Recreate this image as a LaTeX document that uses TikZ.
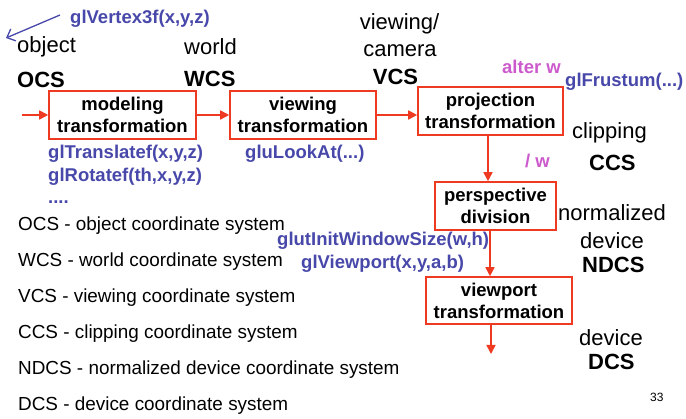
\documentclass[tikz,border=0pt]{standalone}
\usepackage{fontspec}
\setmainfont{Liberation Sans}
\usetikzlibrary{arrows.meta}
\definecolor{boxred}{RGB}{238,58,32}
\definecolor{glblue}{RGB}{72,72,170}
\definecolor{wpink}{RGB}{204,90,204}
\begin{document}
\begin{tikzpicture}[x=1pt,y=-1pt,
  stage/.style={draw=boxred, line width=1.6pt, fill=white, inner sep=0pt, align=center,
    font=\fontsize{18.5}{22}\selectfont\bfseries},
  flow/.style={draw=boxred, line width=1.6pt, -{Triangle[length=9pt,width=9pt]}},
  lbl/.style={inner sep=0pt, font=\fontsize{22}{26}\selectfont},
  cs/.style={inner sep=0pt, font=\fontsize{22}{26}\selectfont\bfseries},
  gl/.style={inner sep=0pt, anchor=west, text=glblue, font=\fontsize{18.5}{22}\selectfont\bfseries},
  wl/.style={inner sep=0pt, anchor=west, text=wpink, font=\fontsize{18.5}{22}\selectfont\bfseries},
  leg/.style={inner sep=0pt, anchor=west, font=\fontsize{18.9}{22}\selectfont}]
\useasboundingbox (0,0) rectangle (686,419);

% stages
\node[stage, minimum width=147pt, minimum height=48pt] (mod) at (122.5,115) {modeling\\transformation};
\node[stage, minimum width=146pt, minimum height=48pt] (view) at (303,115) {viewing\\transformation};
\node[stage, minimum width=145pt, minimum height=48pt] (proj) at (490.5,111) {projection\\transformation};
\node[stage, minimum width=121pt, minimum height=48pt] (persp) at (495.5,206) {perspective\\division};
\node[stage, minimum width=146pt, minimum height=47pt] (vp) at (499,300.5) {viewport\\transformation};

% helper coordinates
\coordinate (inpt) at (22,115);
\coordinate (xa) at (488,0);
\coordinate (xb) at (490,0);
\coordinate (xc) at (491,0);
\coordinate (outpt) at (491,354);

% flow arrows
\draw[flow] (inpt) -- (mod.west);
\draw[flow] (mod.east) -- (view.west);
\draw[flow] (view.east) -- (proj.west |- view.east);
\draw[flow] (proj.south -| xa) -- (persp.north -| xa);
\draw[flow] (persp.south -| xb) -- (vp.north -| xb);
\draw[flow] (vp.south -| xc) -- (outpt);

% coordinate system labels
\node[lbl, anchor=west] (objl) at (17,47) {object};
\node[cs, anchor=west] (ocs) at (17,80) {OCS};
\node[lbl, anchor=west] (worldl) at (184,47) {world};
\node[cs, anchor=west] (wcs) at (184,79) {WCS};
\node[lbl] (viewl) at (399.5,24) {viewing/};
\node[lbl] (caml) at (400,51) {camera};
\node[cs] (vcs) at (395.5,77) {VCS};
\node[lbl, anchor=west] (clipl) at (572,133) {clipping};
\node[cs, anchor=west] (ccs) at (589,163) {CCS};
\node[lbl, anchor=west] (norml) at (558,213) {normalized};
\node[lbl, anchor=west] (devl) at (580,241) {device};
\node[cs, anchor=west] (ndcs) at (582,265) {NDCS};
\node[lbl, anchor=west] (dev2l) at (579,338) {device};
\node[cs, anchor=west] (dcs) at (588,362) {DCS};

% OpenGL calls
\node[gl] (vtx) at (70,19) {glVertex3f(x,y,z)};
\coordinate (vtxs) at (60,15);
\coordinate (vtxe) at (6,38);
\draw[glblue, line width=1.3pt, -{Straight Barb[length=7pt,width=13pt]}] (vtxs) -- (vtxe);
\node[gl] (trans) at (48,154) {glTranslatef(x,y,z)};
\node[gl] (rot) at (48,177) {glRotatef(th,x,y,z)};
\node[gl] (dots) at (48,202) {....};
\node[gl] (look) at (245,154) {gluLookAt(...)};
\node[gl] (frus) at (565,82) {glFrustum(...)};
\node[gl] (glut) at (277,241) {glutInitWindowSize(w,h)};
\node[gl] (vport) at (301,264) {glViewport(x,y,a,b)};
\node[wl] (alterw) at (502,67) {alter w};
\node[wl] (divw) at (525,161) {/ w};

% legend
\node[leg] (l1) at (18,226) {OCS - object coordinate system};
\node[leg] (l2) at (18,262) {WCS - world coordinate system};
\node[leg] (l3) at (18,298) {VCS - viewing coordinate system};
\node[leg] (l4) at (18,334) {CCS - clipping coordinate system};
\node[leg] (l5) at (18,370) {NDCS - normalized device coordinate system};
\node[leg] (l6) at (18,406) {DCS - device coordinate system};

\node[inner sep=0pt, anchor=west, font=\fontsize{12}{14}\selectfont] (pg) at (650,397) {33};
\end{tikzpicture}
\end{document}
